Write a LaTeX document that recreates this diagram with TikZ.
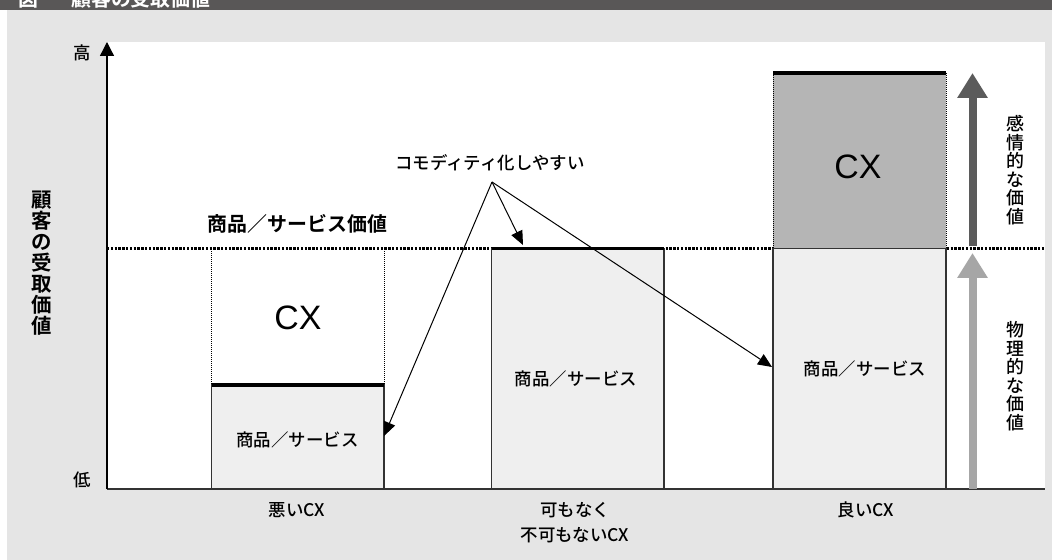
\documentclass[tikz,border=0pt]{standalone}
\usepackage{fontspec}
\setmainfont{Noto Sans CJK JP Medium}
\newfontfamily\boldjp{Noto Sans CJK JP Bold}
\newfontfamily\cxfont{Liberation Sans}
\usetikzlibrary{arrows.meta}
\definecolor{hdr}{HTML}{595757}
\definecolor{panel}{HTML}{E5E5E5}
\definecolor{boxfill}{HTML}{EFEFEF}
\definecolor{cxgray}{HTML}{B5B5B5}
\definecolor{darkarr}{HTML}{5B5B5B}
\definecolor{lightarr}{HTML}{A6A6A6}
\definecolor{edge}{HTML}{333333}
\begin{document}
\begin{tikzpicture}[x=1bp,y=-1bp,
  lbl/.style={inner sep=0pt, text=black, font=\fontsize{17.5}{20}\selectfont},
  boldlbl/.style={inner sep=0pt, text=black, font=\fontsize{20}{22}\selectfont\boldjp},
  vlbl/.style={inner sep=0pt, text=black, align=center, font=\fontsize{18}{18.6}\selectfont},
  cxlbl/.style={inner sep=0pt, font=\fontsize{34}{36}\selectfont\cxfont},
  prodbox/.style={fill=boxfill, draw=edge, line width=1.2bp},
  topline/.style={line width=3.6bp, black},
  thindot/.style={line width=1bp, dash pattern=on 1bp off 1bp, black},
  pointer/.style={line width=1bp, -{Triangle[length=14bp,width=12bp]}},
  bigarrow/.style={line width=8bp, -{Triangle[length=25bp,width=29bp]}}
]
\useasboundingbox (0,0) rectangle (1052,560);
\fill[white] (0,0) rectangle (1052,560);
\fill[panel] (7,10.5) rectangle (1052,560);
\begin{scope}
  \clip (0,0) rectangle (1052,10.5);
  \fill[hdr] (0,0) rectangle (1052,10.5);
  \node[anchor=base west, boldlbl, text=white] (fig) at (18,6.5) {図};
  \node[anchor=base west, boldlbl, text=white] (title) at (71,6.5) {顧客の受取価値};
\end{scope}
% plot area
\fill[white] (107,42) rectangle (1045,489);
% dotted level line
\draw[line width=2.2bp, dash pattern=on 2.4bp off 1.4bp] (107,248.5) -- (1045,248.5);
% bad CX
\draw[thindot] (211.5,249.5) -- (211.5,385);
\draw[thindot] (384,249.5) -- (384,385);
\draw[prodbox] (211.5,385) rectangle (384,489);
\draw[topline] (211.5,385) -- (384,385);
% middle
\draw[prodbox] (491.5,248.5) rectangle (664,489);
\draw[topline] (491.5,248.5) -- (664,248.5);
% good CX
\fill[cxgray] (773,73) rectangle (946,248.5);
\draw[thindot] (773,73) -- (773,248.5);
\draw[thindot] (946,73) -- (946,248.5);
\draw[prodbox] (773,248.5) rectangle (946,489);
\draw[topline] (773,73) -- (946,73);
% axes
\coordinate (origin) at (107,489);
\coordinate (top) at (107,42);
\coordinate (xend) at (1045,489);
\draw[edge, line width=1.5bp] (origin) -- (xend);
\draw[line width=1.3bp, -{Triangle[length=14bp,width=14bp]}] (origin) -- (top);
% big arrows
\coordinate (d1) at (972.5,246);
\coordinate (d2) at (972.5,73);
\coordinate (l1) at (972.5,489);
\coordinate (l2) at (972.5,253);
\draw[bigarrow, darkarr] (d1) -- (d2);
\draw[bigarrow, lightarr] (l1) -- (l2);
% labels
\node[lbl] (hi) at (82,53) {高};
\node[lbl] (lo) at (82,480) {低};
\node[boldlbl, align=center, font=\fontsize{20.5}{21}\selectfont\boldjp] (ylab) at (42,263) {顧\\客\\の\\受\\取\\価\\値};
\node[boldlbl] (pslevel) at (297.5,224) {商品／サービス価値};
\node[cxlbl] (cx1) at (298,318) {CX};
\node[cxlbl] (cx2) at (858,167) {CX};
\node[lbl] (p1) at (297.5,440) {商品／サービス};
\node[lbl] (p2) at (576,379) {商品／サービス};
\node[lbl] (p3) at (865,369) {商品／サービス};
\node[lbl] (b1) at (297,510) {悪いCX};
\node[lbl, align=center, font=\fontsize{17.5}{25}\selectfont] (b2) at (575,522.5) {可もなく\\不可もないCX};
\node[lbl] (b3) at (866,510) {良いCX};
\node[vlbl] (emo) at (1015,170) {感\\情\\的\\な\\価\\値};
\node[vlbl] (phy) at (1015,376) {物\\理\\的\\な\\価\\値};
\node[lbl] (comm) at (490,163) {コモディティ化しやすい};
% pointers
\coordinate (src) at (492,182);
\coordinate (tipL) at (384,436);
\coordinate (tipM) at (523,245);
\coordinate (tipR) at (772,367);
\draw[pointer] (src) -- (tipL);
\draw[pointer] (src) -- (tipM);
\draw[pointer] (src) -- (tipR);
\end{tikzpicture}
\end{document}
